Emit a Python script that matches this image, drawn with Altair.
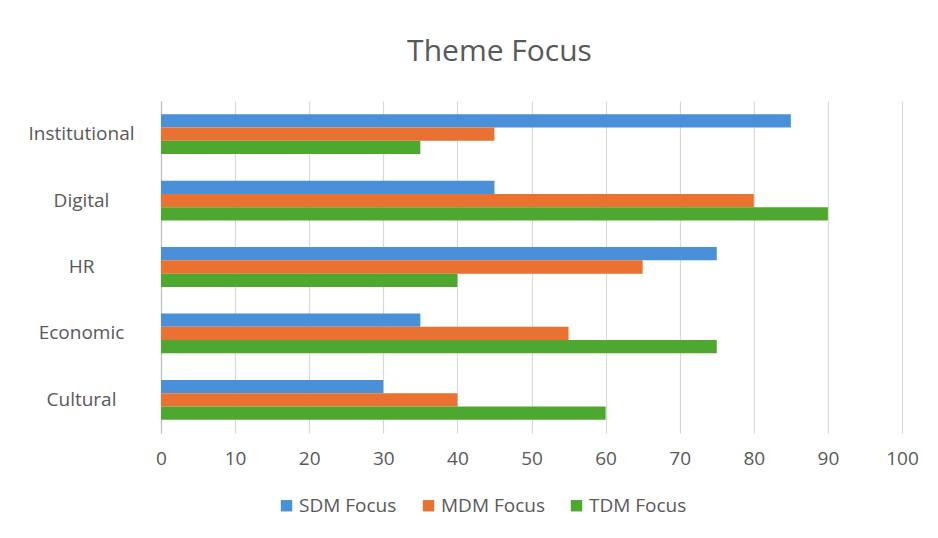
import altair as alt
import pandas as pd

categories = ["Institutional", "Digital", "HR", "Economic", "Cultural"]
series = ["SDM Focus", "MDM Focus", "TDM Focus"]
sdm = [85, 45, 75, 35, 30]
mdm = [45, 80, 65, 55, 40]
tdm = [35, 90, 40, 75, 60]
colors = ["#4A90D9", "#E97132", "#4EA72E"]

rows = []
for i, c in enumerate(categories):
    for s, vals in zip(series, [sdm, mdm, tdm]):
        rows.append({"Theme": c, "Series": s, "Value": vals[i]})
df = pd.DataFrame(rows)

FONT = "Open Sans"
GRAY = "#595959"

chart = alt.Chart(df).mark_bar().encode(
    y=alt.Y("Theme:N", sort=categories,
            scale=alt.Scale(paddingInner=0.4, paddingOuter=0.2),
            axis=alt.Axis(title=None, ticks=False, tickSize=0, labelAlign="center",
                          labelPadding=80, labelFontSize=19, labelColor=GRAY,
                          labelFont=FONT, domainColor="#BFBFBF", domainWidth=1.2,
                          minExtent=148, maxExtent=148, grid=False)),
    yOffset=alt.YOffset("Series:N", sort=series),
    x=alt.X("Value:Q", scale=alt.Scale(domain=[0, 100], nice=False),
            axis=alt.Axis(title=None, values=list(range(0, 101, 10)), ticks=False,
                          domain=False, labelPadding=16, labelFontSize=19,
                          labelFlush=False,
                          labelColor=GRAY, labelFont=FONT, gridColor="#D9D9D9",
                          gridWidth=1.2)),
    color=alt.Color("Series:N", sort=series,
                    scale=alt.Scale(domain=series, range=colors),
                    legend=alt.Legend(title=None, orient="none", direction="horizontal",
                                      legendX=116, legendY=395, symbolType="square",
                                      symbolSize=130, symbolStrokeWidth=0,
                                      labelFontSize=19, labelColor=GRAY,
                                      labelFont=FONT, columnPadding=22,
                                      labelOffset=3)),
).properties(
    width=741,
    height=332,
    padding={"left": 5, "top": 29, "right": 5, "bottom": 5},
    title=alt.TitleParams("Theme Focus", fontSize=30, font=FONT, color=GRAY,
                          fontWeight="normal", anchor="middle", dx=-32, offset=34),
).configure_view(stroke=None)

chart.save("out.html", embed_options={"renderer": "svg", "actions": False})
